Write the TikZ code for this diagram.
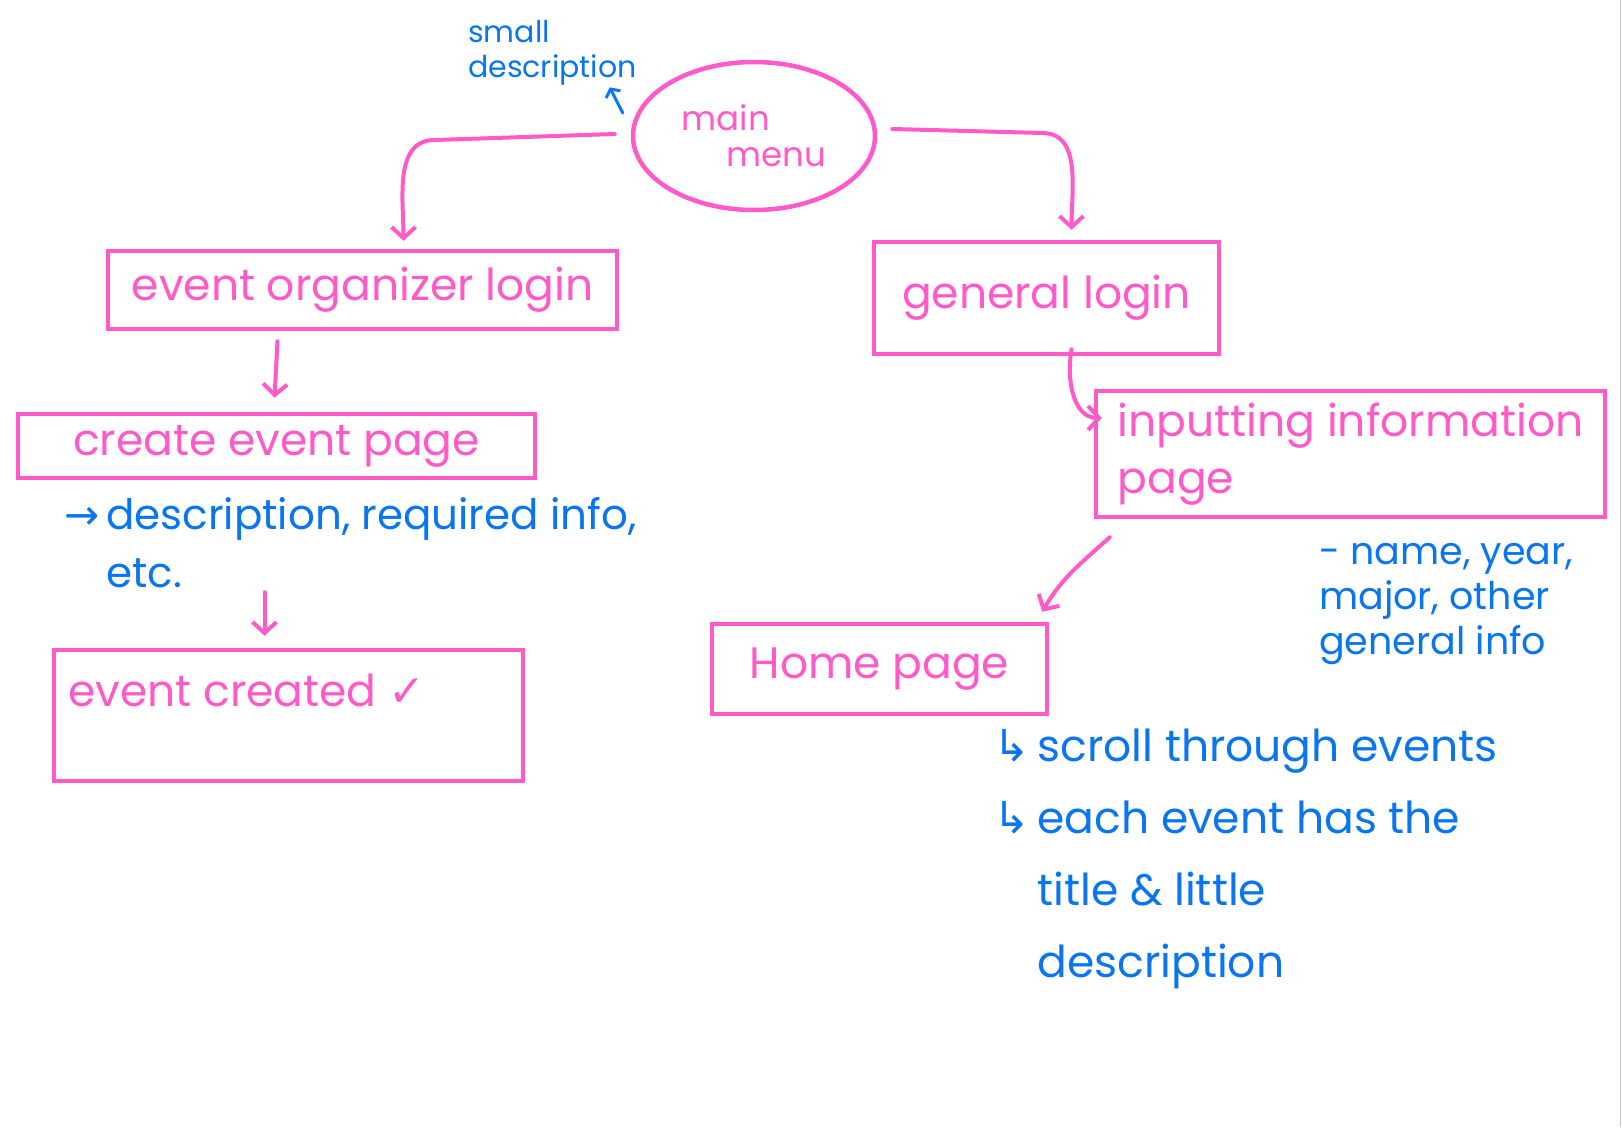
\documentclass[tikz,border=0pt]{standalone}
\usepackage{fontspec}
\setmainfont{Poppins}
\newfontfamily\symfont{DejaVu Sans}
\usetikzlibrary{arrows.meta,positioning,shapes.geometric}
\definecolor{penpink}{RGB}{255,90,200}
\definecolor{penblue}{RGB}{10,117,240}

\begin{document}
\begin{tikzpicture}[x=1pt,y=-1pt,
  page/.style={rectangle,draw=penpink,line width=4.5pt,text=penpink,
               font=\fontsize{44}{57}\selectfont,inner sep=0pt},
  note/.style={text=penblue,align=left,inner sep=0pt,anchor=north west},
  flow/.style={draw=penpink,line width=4pt,line cap=round,
               -{Straight Barb[length=11pt,width=24pt]}},
  noteflow/.style={draw=penblue,line width=3pt,line cap=round,
               -{Straight Barb[length=6pt,width=16pt]}}]

\useasboundingbox (0,0) rectangle (1622,1127);
\fill[white] (0,0) rectangle (1622,1127);
\draw[gray!45,line width=1.5pt] (1620.5,0) -- (1620.5,1127);

\node[ellipse,draw=penpink,line width=4.5pt,text=penpink,align=left,
      minimum width=242pt,minimum height=148pt,
      font=\fontsize{34}{36}\selectfont] (menu) at (754,136)
  {main\\\hspace*{45pt}menu};
\node[note,font=\fontsize{30}{35}\selectfont] (smalldesc) at (468,20)
  {small\\description};

\node[page,minimum width=509pt,minimum height=78pt] (orglogin) at (362.5,290)
  {event organizer login};
\node[page,minimum width=517pt,minimum height=64pt] (createpage) at (276.5,446)
  {create event page};
\node[note,font=\fontsize{42}{58}\selectfont] (createnote) at (64,497)
  {{\symfont→}\,description, required info,\\\phantom{{\symfont→}\,}etc.};
\node[page,minimum width=469pt,minimum height=131pt] (created) at (288.5,715.5) {};
\node[text=penpink,anchor=west,inner sep=0pt,
      font=\fontsize{44}{57}\selectfont] (createdtext) at (68,690)
  {event created {\symfont✓}};

\node[page,minimum width=345pt,minimum height=112pt] (genlogin) at (1046.5,298)
  {general login};
\node[page,minimum width=509pt,minimum height=126pt,align=left]
  (inputting) at (1350.5,454) {inputting information\\page};
\node[note,font=\fontsize{38}{45}\selectfont] (infonote) at (1319,543)
  {- name, year,\\major, other\\general info};
\node[page,minimum width=335pt,minimum height=90pt] (home) at (879.5,669)
  {Home page};
\node[note,font=\fontsize{44}{72}\selectfont] (homenote) at (993,729)
  {{\symfont↳}\,scroll through events\\{\symfont↳}\,each event has the\\
   \phantom{{\symfont↳}\,}title \& little\\\phantom{{\symfont↳}\,}description};

\draw[flow] ([xshift=-16pt,yshift=2pt]menu.west) -- ++(-180,6)
  to[out=180,in=90] ([xshift=41pt,yshift=8pt]orglogin.north);
\draw[flow] ([xshift=15pt,yshift=7pt]menu.east) -- ++(150,4)
  to[out=0,in=90] ([xshift=25pt,yshift=10pt]genlogin.north);
\draw[noteflow] ([xshift=-8pt,yshift=23pt]menu.west)
  -- ([xshift=-27pt,yshift=-2pt]smalldesc.south east);
\draw[flow] ([xshift=-85pt,yshift=-10pt]orglogin.south)
  -- ([xshift=-2pt,yshift=14pt]createpage.north);
\draw[flow] ([xshift=-12pt,yshift=-112pt]createpage.south)
  -- ([xshift=-24pt,yshift=12pt]created.north);
\draw[flow] ([xshift=25pt,yshift=7pt]genlogin.south)
  to[out=-100,in=180] ([xshift=8pt,yshift=36pt]inputting.west);
\draw[flow] ([xshift=16pt,yshift=-18pt]inputting.south west)
  to[out=-138,in=60] ([xshift=-7pt,yshift=10pt]home.north east);
\end{tikzpicture}
\end{document}
